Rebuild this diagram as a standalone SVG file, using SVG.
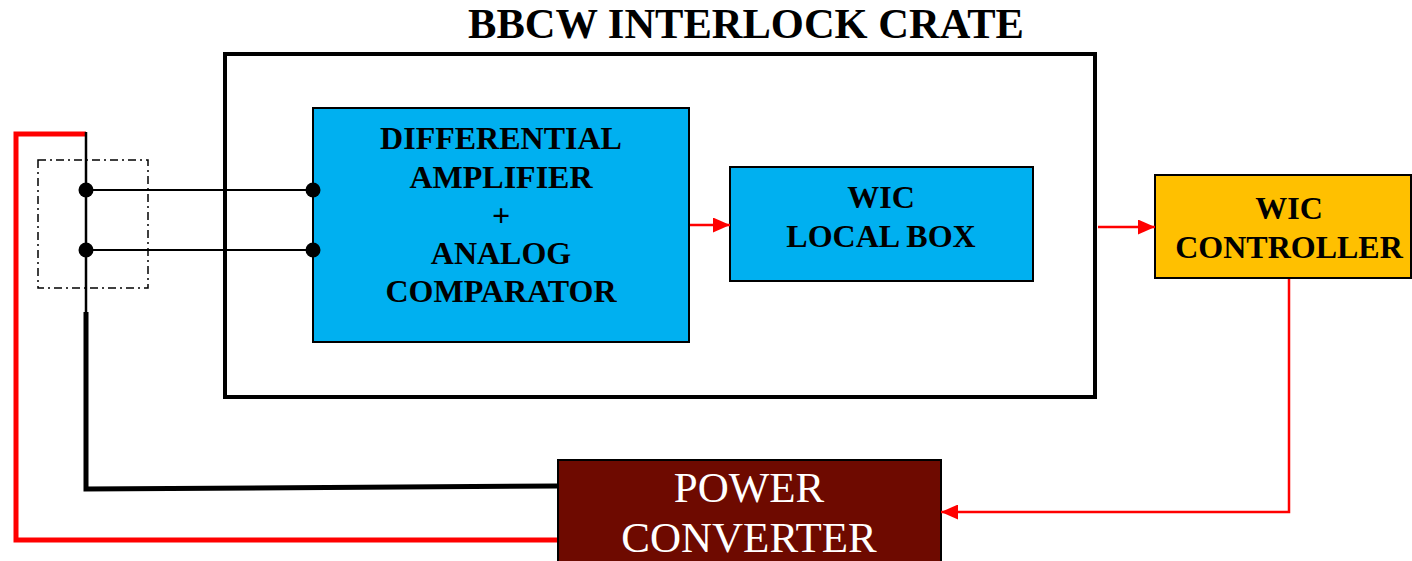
<svg xmlns="http://www.w3.org/2000/svg" width="1412" height="561" viewBox="0 0 1412 561">
<style>
.b{font-family:"Liberation Serif","Times New Roman",serif;font-weight:bold;font-size:32px;text-anchor:middle;fill:#000}
.w{font-family:"Liberation Serif","Times New Roman",serif;font-size:43px;text-anchor:middle;fill:#fff}
.t{font-family:"Liberation Serif","Times New Roman",serif;font-weight:bold;font-size:42.5px;text-anchor:middle;fill:#000}
.box{stroke:#000;stroke-width:2}
.red{stroke:#ff0000;stroke-width:2.5;fill:none}
</style>
<defs>
<marker id="ah" markerWidth="17" markerHeight="15" refX="17" refY="7.5" orient="auto" markerUnits="userSpaceOnUse">
<path d="M0,0 L17,7.5 L0,15 Z" fill="#ff0000"/>
</marker>
</defs>
<rect width="1412" height="561" fill="#fff"/>
<text class="t" x="746" y="38">BBCW INTERLOCK CRATE</text>
<g id="crate"><rect x="225" y="54" width="870" height="343" fill="none" stroke="#000" stroke-width="4"/></g>
<g id="diffamp">
<rect class="box" x="313" y="108" width="376" height="234" fill="#00b0f0"/>
<text class="b" x="501" y="149">DIFFERENTIAL</text>
<text class="b" x="501" y="188">AMPLIFIER</text>
<text class="b" x="501" y="226">+</text>
<text class="b" x="501" y="264">ANALOG</text>
<text class="b" x="501" y="302">COMPARATOR</text>
</g>
<g id="localbox">
<rect class="box" x="730" y="167" width="303" height="114" fill="#00b0f0"/>
<text class="b" x="881" y="208">WIC</text>
<text class="b" x="881" y="247">LOCAL BOX</text>
</g>
<g id="controller">
<rect class="box" x="1155" y="175" width="256" height="103" fill="#ffc000"/>
<text class="b" x="1289" y="219">WIC</text>
<text class="b" x="1289" y="258">CONTROLLER</text>
</g>
<g id="converter">
<rect class="box" x="558" y="460" width="383" height="110" fill="#6e0a00"/>
<text class="w" x="749" y="502">POWER</text>
<text class="w" x="749" y="552">CONVERTER</text>
</g>
<g id="connectors">
<polyline points="86,134 16,134 16,540 557,540" fill="none" stroke="#ff0000" stroke-width="5"/>
<line x1="86" y1="132" x2="86" y2="312" stroke="#000" stroke-width="2.5"/>
<polyline points="86,312 86,489 557,486" fill="none" stroke="#000" stroke-width="5"/>
<rect x="38" y="160" width="110" height="128" fill="none" stroke="#000" stroke-width="1.5" stroke-dasharray="8,4,2,4"/>
<line x1="86" y1="190" x2="313" y2="190" stroke="#000" stroke-width="2"/>
<line x1="86" y1="250" x2="313" y2="250" stroke="#000" stroke-width="2"/>
<circle cx="86" cy="190" r="7.5"/><circle cx="86" cy="250" r="7.5"/>
<circle cx="313" cy="190" r="7.5"/><circle cx="313" cy="250" r="7.5"/>
<line class="red" x1="690" y1="225" x2="730" y2="225" marker-end="url(#ah)"/>
<line class="red" x1="1098" y1="227" x2="1155" y2="227" marker-end="url(#ah)"/>
<polyline class="red" points="1289,279 1289,512 941,512" marker-end="url(#ah)"/>
</g>
</svg>
